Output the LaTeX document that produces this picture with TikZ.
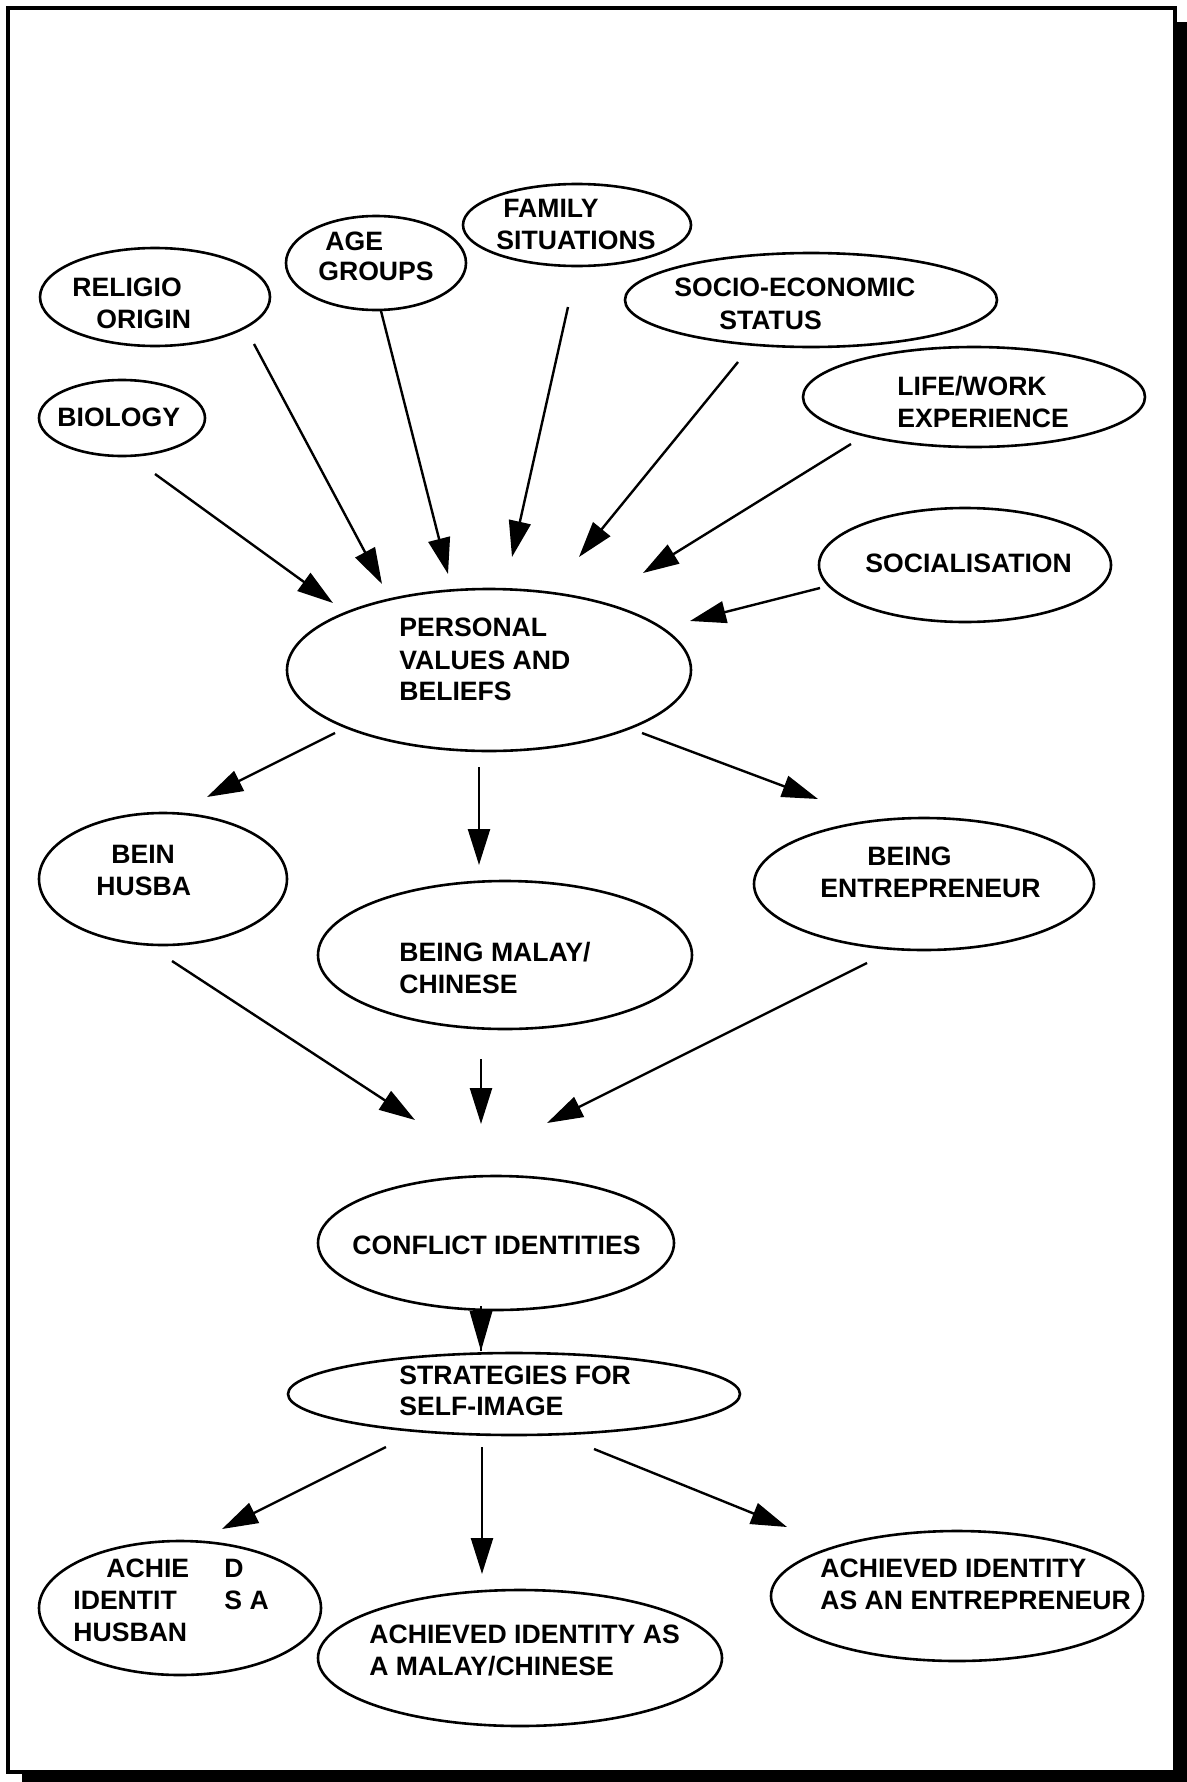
\documentclass[tikz,border=0pt]{standalone}
\usepackage{fontspec}
\setmainfont{Liberation Sans}
\usetikzlibrary{shapes.geometric,arrows.meta}
\begin{document}
\begin{tikzpicture}[x=0.5pt,y=-0.5pt,
  oval/.style={ellipse,draw=black,line width=1.3pt,inner sep=0pt,outer sep=0pt},
  lbl/.style={anchor=west,inner sep=0pt,font=\fontsize{13.3pt}{16pt}\selectfont\bfseries},
  arr/.style={line width=1.2pt,-{Triangle[length=18pt,width=11pt]}},
  shaft/.style={line width=1.2pt}
]
\useasboundingbox (0,0) rectangle (1187,1782);
% page frame with its drop shadow
\fill[black] (22,22) rectangle (1187,1782);
\draw[fill=white,line width=1.6pt] (8,8) rectangle (1175,1772);

% influences
\node[oval,minimum width=83pt,minimum height=38pt] (bio) at (122,418) {};
\node[oval,minimum width=115pt,minimum height=49pt] (rel) at (155,297) {};
\node[oval,minimum width=90pt,minimum height=47pt] (age) at (376,263) {};
\node[oval,minimum width=114pt,minimum height=41pt] (fam) at (577,225) {};
\node[oval,minimum width=186pt,minimum height=47pt] (ses) at (811,300) {};
\node[oval,minimum width=171pt,minimum height=50pt] (life) at (974,397) {};
\node[oval,minimum width=146pt,minimum height=57pt] (socl) at (965,565) {};
% values
\node[oval,minimum width=202pt,minimum height=81pt] (pvb) at (489,670) {};
% roles
\node[oval,minimum width=124pt,minimum height=66pt] (hus) at (163,879) {};
\node[oval,minimum width=187pt,minimum height=74pt] (mal) at (505,955) {};
\node[oval,minimum width=170pt,minimum height=66pt] (ent) at (924,884) {};
% conflict and strategies
\node[oval,minimum width=178pt,minimum height=67pt] (con) at (496,1243) {};
\node[oval,minimum width=226pt,minimum height=41pt] (str) at (514,1394) {};
% outcomes
\node[oval,minimum width=141pt,minimum height=67pt] (ahus) at (180,1608) {};
\node[oval,minimum width=202pt,minimum height=68pt] (amal) at (520,1658) {};
\node[oval,minimum width=186pt,minimum height=65pt] (aent) at (957,1596) {};

% labels
\node[lbl] (t-bio) at (57,417) {BIOLOGY};
\node[lbl] (t-rel1) at (72,287) {RELIGIO};
\node[lbl] (t-rel2) at (96,319) {ORIGIN};
\node[lbl] (t-age1) at (325,241) {AGE};
\node[lbl] (t-age2) at (318,271) {GROUPS};
\node[lbl] (t-fam1) at (503,208) {FAMILY};
\node[lbl] (t-fam2) at (496,240) {SITUATIONS};
\node[lbl] (t-ses1) at (674,287) {SOCIO-ECONOMIC};
\node[lbl] (t-ses2) at (719,320) {STATUS};
\node[lbl] (t-life1) at (897,386) {LIFE/WORK};
\node[lbl] (t-life2) at (897,418) {EXPERIENCE};
\node[lbl] (t-socl) at (865,563) {SOCIALISATION};
\node[lbl] (t-pvb1) at (399,627) {PERSONAL};
\node[lbl] (t-pvb2) at (399,660) {VALUES AND};
\node[lbl] (t-pvb3) at (399,691) {BELIEFS};
\node[lbl] (t-hus1) at (111,854) {BEIN};
\node[lbl] (t-hus2) at (96,886) {HUSBA};
\node[lbl] (t-mal1) at (399,952) {BEING MALAY/};
\node[lbl] (t-mal2) at (399,984) {CHINESE};
\node[lbl] (t-ent1) at (867,856) {BEING};
\node[lbl] (t-ent2) at (820,888) {ENTREPRENEUR};
\node[lbl] (t-con) at (352,1245) {CONFLICT IDENTITIES};
\node[lbl] (t-str1) at (399,1375) {STRATEGIES FOR};
\node[lbl] (t-str2) at (399,1406) {SELF-IMAGE};
\node[lbl] (t-ahus1) at (106,1568) {ACHIE};
\node[lbl] (t-ahus1b) at (224,1568) {D};
\node[lbl] (t-ahus2) at (73,1600) {IDENTIT};
\node[lbl] (t-ahus2b) at (224,1600) {S A};
\node[lbl] (t-ahus3) at (73,1632) {HUSBAN};
\node[lbl] (t-amal1) at (369,1634) {ACHIEVED IDENTITY AS};
\node[lbl] (t-amal2) at (369,1666) {A MALAY/CHINESE};
\node[lbl] (t-aent1) at (820,1568) {ACHIEVED IDENTITY};
\node[lbl] (t-aent2) at (820,1600) {AS AN ENTREPRENEUR};

% connector ends
\coordinate (bio-o) at (155,474);  \coordinate (bio-i) at (333,603);
\coordinate (rel-o) at (254,344);  \coordinate (rel-i) at (382,584);
\coordinate (age-o) at (381,311);  \coordinate (age-i) at (448,574);
\coordinate (fam-o) at (568,307);  \coordinate (fam-i) at (512,557);
\coordinate (ses-o) at (738,362);  \coordinate (ses-i) at (579,557);
\coordinate (life-o) at (851,444); \coordinate (life-i) at (643,573);
\coordinate (socl-o) at (820,588); \coordinate (socl-i) at (690,621);
\coordinate (pvb-a) at (335,733);  \coordinate (hus-i) at (207,797);
\coordinate (pvb-b) at (479,767);  \coordinate (mal-i) at (479,865);
\coordinate (pvb-c) at (642,733);  \coordinate (ent-i) at (818,799);
\coordinate (hus-o) at (172,961);  \coordinate (con-a) at (415,1120);
\coordinate (mal-o) at (481,1059); \coordinate (con-b) at (481,1124);
\coordinate (ent-o) at (867,963);  \coordinate (con-c) at (547,1123);
\coordinate (conbot) at (481,1306); \coordinate (strtop) at (481,1351);
\coordinate (str-a) at (386,1447); \coordinate (ahus-i) at (222,1529);
\coordinate (str-b) at (482,1447); \coordinate (amal-i) at (482,1574);
\coordinate (str-c) at (594,1449); \coordinate (aent-i) at (787,1527);

% connectors
\draw[arr] (bio-o) -- (bio-i);
\draw[arr] (rel-o) -- (rel-i);
\draw[arr] (age-o) -- (age-i);
\draw[arr] (fam-o) -- (fam-i);
\draw[arr] (ses-o) -- (ses-i);
\draw[arr] (life-o) -- (life-i);
\draw[arr] (socl-o) -- (socl-i);
\draw[arr] (pvb-a) -- (hus-i);
\draw[arr] (pvb-b) -- (mal-i);
\draw[arr] (pvb-c) -- (ent-i);
\draw[arr] (hus-o) -- (con-a);
\draw[arr] (mal-o) -- (con-b);
\draw[arr] (ent-o) -- (con-c);
% the short link between conflict and strategies is almost all head
\draw[shaft] (conbot) -- (strtop);
\fill (strtop) -- ++(-11.5,-40) -- ++(23,0) -- cycle;
\draw[arr] (str-a) -- (ahus-i);
\draw[arr] (str-b) -- (amal-i);
\draw[arr] (str-c) -- (aent-i);
\end{tikzpicture}
\end{document}
